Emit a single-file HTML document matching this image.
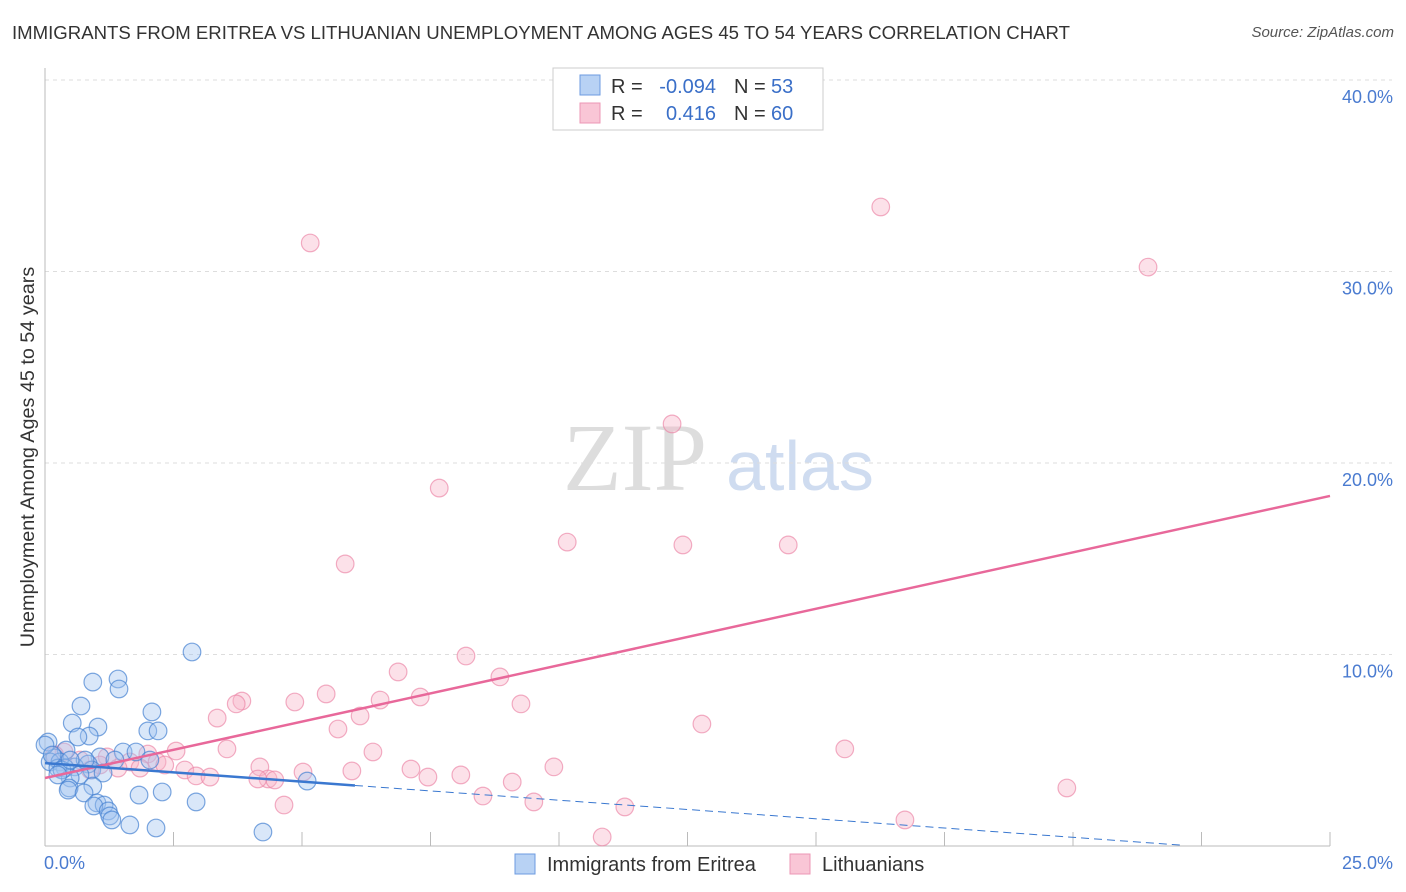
<!DOCTYPE html>
<html><head><meta charset="utf-8">
<style>
body{margin:0;background:#fff;font-family:"Liberation Sans",sans-serif;}
#wrap{position:relative;width:1406px;height:892px;overflow:hidden;}
.t{position:absolute;white-space:nowrap;}
</style></head>
<body>
<div id="wrap">
<div class="t" style="left:12px;top:22px;font-size:18.6px;color:#333;">IMMIGRANTS FROM ERITREA VS LITHUANIAN UNEMPLOYMENT AMONG AGES 45 TO 54 YEARS CORRELATION CHART</div>
<div class="t" style="right:12px;top:24px;font-size:15px;color:#555;font-style:italic;">Source: ZipAtlas.com</div>
<svg id="svg" width="1406" height="892" style="position:absolute;left:0;top:0"></svg>
</div>
<script>
const blueX=[192,93,118,119,81,152,72,98,148,158,89,78,48,66,123,136,100,55,50,60,88,75,65,58,92,103,80,70,307,93,69,68,84,139,162,196,97,104,94,108,110,112,130,156,263,45,52,62,115,85,150,70,58].map(p=>+((p-45)/51.4).toFixed(2));
const blueY=[652,682,679,689,706,712,723,727,731,731,736,737,742,750,752,752,757,758,762,762,764,767,768,768,770,773,775,778,781,786,788,790,793,795,792,802,803,805,806,811,816,820,825,828,832,745,755,770,760,760,760,760,775].map(p=>+((846-p)/19.15).toFixed(2));
const pinkX=[881,310,1148,672,439,567,683,788,345,466,398,500,326,242,236,295,380,420,521,360,217,702,338,227,373,845,176,148,64,107,157,130,260,554,185,411,196,210,303,352,461,428,268,275,258,512,1067,483,534,284,625,905,602,118,100,140,55,80,165,90].map(p=>+((p-45)/51.4).toFixed(2));
const pinkY=[207,243,267,424,488,542,545,545,564,656,672,677,694,701,704,702,700,697,704,716,718,724,729,749,752,749,751,754,752,757,762,762,767,767,770,769,776,777,772,771,775,777,779,780,779,782,788,796,802,805,807,820,837,768,765,768,755,760,765,770].map(p=>+((846-p)/19.15).toFixed(2));
const yTicks=[10,20,30,40];
const yTickLabels=["10.0%","20.0%","30.0%","40.0%"];
const xTicks=[0,2.5,5,7.5,10,12.5,15,17.5,20,22.5,25];
const pinkTrend=[3.55,18.28];
const blueTrend=[4.33,0.05,6.03,22.08];

const X=v=>45+v*51.4, Y=v=>846-v*19.15;
const svg=document.getElementById('svg');
const NS='http://www.w3.org/2000/svg';
function mk(tag,attrs,name){const e=document.createElementNS(NS,tag);for(const k in attrs)e.setAttribute(k,attrs[k]);


svg.appendChild(e);return e;}
let w=mk('text',{x:635,y:490,'font-size':96,'font-family':'Liberation Serif',fill:'#ddd','text-anchor':'middle'},'watermark-zip');w.textContent='ZIP';
w=mk('text',{x:800,y:490,'font-size':70,'font-family':'Liberation Sans',fill:'#cfdcf0','text-anchor':'middle'},'watermark-atlas');w.textContent='atlas';
yTicks.forEach((t,i)=>{mk('line',{x1:45,x2:1392,y1:Y(t),y2:Y(t),stroke:'#ddd','stroke-dasharray':'4,4'},'gridline');
const l=mk('text',{x:1393,y:Y(t)+23,'font-size':18,fill:'#4a7bd0','text-anchor':'end'},'y-tick-label');l.textContent=yTickLabels[i];});
mk('line',{x1:45,x2:45,y1:68,y2:846,stroke:'#bbb'},'y-axis');
mk('line',{x1:45,x2:1330,y1:846,y2:846,stroke:'#bbb'},'x-axis');
xTicks.forEach(t=>mk('line',{x1:X(t),x2:X(t),y1:832,y2:846,stroke:'#bbb'},'x-tick'));
let xl=mk('text',{x:44,y:869,'font-size':18,fill:'#4a7bd0'},'x-label-min');xl.textContent='0.0%';
xl=mk('text',{x:1393,y:869,'font-size':18,fill:'#4a7bd0','text-anchor':'end'},'x-label-max');xl.textContent='25.0%';
let yt=mk('text',{x:34,y:457,'font-size':19.8,fill:'#333','text-anchor':'middle',transform:'rotate(-90 34 457)'},'y-axis-title');yt.textContent='Unemployment Among Ages 45 to 54 years';
pinkX.forEach((x,i)=>mk('circle',{cx:X(x),cy:Y(pinkY[i]),r:8.8,fill:'rgba(248,180,200,0.4)',stroke:'rgba(235,130,165,0.65)','stroke-width':1.2},'pink-point'));
blueX.forEach((x,i)=>mk('circle',{cx:X(x),cy:Y(blueY[i]),r:8.8,fill:'rgba(160,195,240,0.4)',stroke:'rgba(70,130,210,0.7)','stroke-width':1.2},'blue-point'));
mk('line',{x1:X(0),y1:Y(pinkTrend[0]),x2:X(25),y2:Y(pinkTrend[1]),stroke:'#e8689a','stroke-width':2.5},'pink-trend-line');
const bAt=x=>blueTrend[0]+(blueTrend[1]-blueTrend[0])*x/blueTrend[3];
mk('line',{x1:X(0),y1:Y(bAt(0)),x2:X(blueTrend[2]),y2:Y(bAt(blueTrend[2])),stroke:'#3a78d0','stroke-width':2.5},'blue-trend-line');
mk('line',{x1:X(blueTrend[2]),y1:Y(bAt(blueTrend[2])),x2:X(blueTrend[3]),y2:Y(bAt(blueTrend[3])),stroke:'#3a78d0','stroke-width':1,'stroke-dasharray':'8,5'},'blue-trend-dashed');
mk('rect',{x:553,y:68,width:270,height:62,fill:'#fff',stroke:'#ccc'},'legend-box');
mk('rect',{x:580,y:75,width:20,height:20,fill:'#b8d2f4',stroke:'#6d9be0'},'legend-swatch-blue');
mk('rect',{x:580,y:103,width:20,height:20,fill:'#f9c6d6',stroke:'#ec97b5'},'legend-swatch-pink');
function txt(x,y,s,c,n,a){const e=mk('text',{x:x,y:y,'font-size':20,fill:c,'text-anchor':a||'start'},n);e.textContent=s;}
txt(611,93,'R =','#333','legend-r-label');txt(716,93,'-0.094','#3a6fc8','legend-r-blue','end');
txt(734,93,'N =','#333','legend-n-label');txt(771,93,'53','#3a6fc8','legend-n-blue');
txt(611,120,'R =','#333','legend-r-label');txt(716,120,'0.416','#3a6fc8','legend-r-pink','end');
txt(734,120,'N =','#333','legend-n-label');txt(771,120,'60','#3a6fc8','legend-n-pink');
mk('rect',{x:515,y:854,width:20,height:20,fill:'#b8d2f4',stroke:'#6d9be0'},'bottom-legend-swatch-blue');
txt(547,871,'Immigrants from Eritrea','#333','bottom-legend-blue');
mk('rect',{x:790,y:854,width:20,height:20,fill:'#f9c6d6',stroke:'#ec97b5'},'bottom-legend-swatch-pink');
txt(822,871,'Lithuanians','#333','bottom-legend-pink');
</script>
</body></html>
